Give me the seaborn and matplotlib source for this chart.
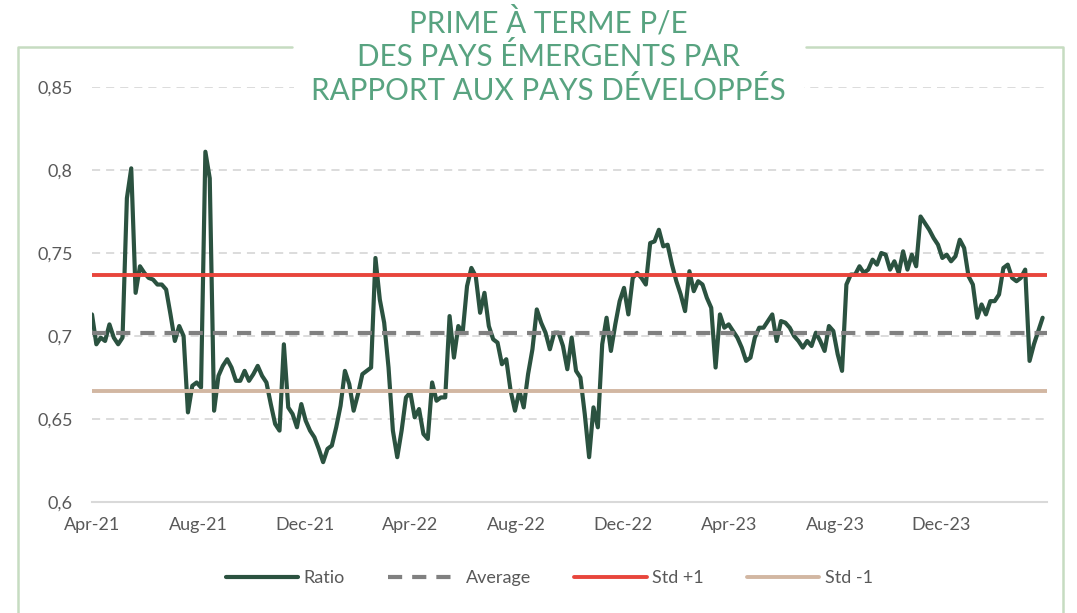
import matplotlib
matplotlib.use("Agg")
import matplotlib.pyplot as plt
from matplotlib.lines import Line2D
from matplotlib.patches import Rectangle
import pandas as pd
import seaborn as sns

# Ratio, one value every 5 days from 1 Apr 2021
start_date = "2021-04-01"
step = "5D"
ratio = [
    0.713, 0.695, 0.699, 0.697, 0.707, 0.699, 0.695, 0.699, 0.783, 0.801,
    0.726, 0.742, 0.738, 0.735, 0.734, 0.731, 0.731, 0.728, 0.713, 0.697,
    0.706, 0.700, 0.654, 0.670, 0.672, 0.669, 0.811, 0.795, 0.655, 0.676,
    0.682, 0.686, 0.681, 0.673, 0.673, 0.679, 0.673, 0.677, 0.682, 0.676,
    0.672, 0.659, 0.647, 0.643, 0.695, 0.657, 0.653, 0.645, 0.659, 0.649,
    0.643, 0.639, 0.632, 0.624, 0.632, 0.634, 0.645, 0.658, 0.679, 0.671,
    0.655, 0.665, 0.677, 0.679, 0.681, 0.747, 0.722, 0.708, 0.681, 0.643,
    0.627, 0.643, 0.663, 0.666, 0.651, 0.656, 0.641, 0.638, 0.672, 0.661,
    0.663, 0.663, 0.712, 0.687, 0.706, 0.702, 0.730, 0.741, 0.736, 0.714,
    0.726, 0.706, 0.698, 0.696, 0.683, 0.686, 0.667, 0.655, 0.667, 0.657,
    0.677, 0.692, 0.716, 0.708, 0.702, 0.692, 0.702, 0.702, 0.694, 0.680,
    0.699, 0.679, 0.675, 0.653, 0.627, 0.657, 0.645, 0.695, 0.711, 0.691,
    0.707, 0.721, 0.729, 0.713, 0.735, 0.738, 0.735, 0.731, 0.756, 0.757,
    0.764, 0.754, 0.755, 0.743, 0.733, 0.725, 0.715, 0.739, 0.727, 0.733,
    0.731, 0.723, 0.717, 0.681, 0.713, 0.705, 0.707, 0.703, 0.699, 0.693,
    0.685, 0.687, 0.699, 0.705, 0.705, 0.709, 0.713, 0.697, 0.709, 0.708,
    0.705, 0.700, 0.697, 0.693, 0.697, 0.694, 0.702, 0.697, 0.691, 0.706,
    0.703, 0.689, 0.679, 0.731, 0.737, 0.737, 0.742, 0.738, 0.740, 0.746,
    0.743, 0.750, 0.749, 0.740, 0.745, 0.738, 0.751, 0.740, 0.749, 0.742,
    0.772, 0.768, 0.764, 0.759, 0.755, 0.747, 0.749, 0.745, 0.748, 0.758,
    0.753, 0.736, 0.731, 0.711, 0.719, 0.713, 0.721, 0.721, 0.725, 0.741,
    0.743, 0.735, 0.733, 0.735, 0.740, 0.685, 0.695, 0.703, 0.711,
]

average = 0.702
std_plus = 0.737
std_minus = 0.667

y_ticks = [0.6, 0.65, 0.7, 0.75, 0.8, 0.85]
y_labels = ["0,6", "0,65", "0,7", "0,75", "0,8", "0,85"]
x_ticks = ["2021-04-01", "2021-08-01", "2021-12-01", "2022-04-01", "2022-08-01",
           "2022-12-01", "2023-04-01", "2023-08-01", "2023-12-01"]
x_labels = ["Apr-21", "Aug-21", "Dec-21", "Apr-22", "Aug-22",
            "Dec-22", "Apr-23", "Aug-23", "Dec-23"]

title = "PRIME À TERME P/E\nDES PAYS ÉMERGENTS PAR\nRAPPORT AUX PAYS DÉVELOPPÉS"

df = pd.DataFrame({
    "date": pd.date_range(start_date, periods=len(ratio), freq=step),
    "Ratio": ratio,
})

sns.set_theme(style="white")
plt.rcParams["font.family"] = ["Lato", "DejaVu Sans"]

W, H = 1077, 613
fig = plt.figure(figsize=(W / 100, H / 100), dpi=100)
fig.patch.set_facecolor("white")
ax = fig.add_axes([92 / W, 1 - 502 / H, 955 / W, 415 / H])

# main series, then the reference lines on top
sns.lineplot(data=df, x="date", y="Ratio", ax=ax, color="#2b5240", lw=3, label="Ratio")
ax.axhline(average, color="#808080", lw=3, dashes=(3.4, 2.4), label="Average")
ax.axhline(std_plus, color="#e8453c", lw=2.8, label="Std +1")
ax.axhline(std_minus, color="#d2b7a2", lw=2.8, label="Std -1")

ax.set_ylim(0.6, 0.85)
ax.set_xlim(pd.Timestamp("2021-04-01"), pd.Timestamp("2024-03-31"))
ax.set_yticks(y_ticks)
ax.set_yticklabels(y_labels)
ax.set_xticks(pd.to_datetime(x_ticks))
ax.set_xticklabels(x_labels)
ax.set_xlabel("")
ax.set_ylabel("")
ax.tick_params(axis="both", length=0, labelsize=13, colors="#595959")
ax.tick_params(axis="y", pad=14)
ax.tick_params(axis="x", pad=11)

ax.yaxis.grid(True, color="#d9d9d9", lw=1.3, ls=(0, (4.5, 3.3)))
ax.set_axisbelow(True)
for side in ["top", "left", "right"]:
    ax.spines[side].set_visible(False)
ax.spines["bottom"].set_color("#d9d9d9")
ax.spines["bottom"].set_linewidth(1.5)

ax.get_legend().remove()
handles, labels = ax.get_legend_handles_labels()
leg = fig.legend(handles, labels, loc="center", bbox_to_anchor=(0.510, 1 - 578 / H),
                 ncol=4, frameon=False, fontsize=13, handlelength=4,
                 handletextpad=0.3, columnspacing=2.4)
for t in leg.get_texts():
    t.set_color("#595959")

# light green frame, broken by the title
frame_kw = dict(color="#c6dcc1", lw=1.8, transform=fig.transFigure)
fig.add_artist(Line2D([18 / W, 18 / W, 292 / W], [0, 1 - 47 / H, 1 - 47 / H], **frame_kw))
fig.add_artist(Line2D([806 / W, 1063 / W, 1063 / W], [1 - 47 / H, 1 - 47 / H, 0], **frame_kw))

# white block behind the title hides the top gridline
fig.add_artist(Rectangle((294 / W, 1 - 106 / H), 510 / W, 106 / H, transform=fig.transFigure,
                         facecolor="white", edgecolor="none", zorder=5))
fig.text(0.509, 1 - 56 / H, title, ha="center", va="center", fontsize=21.3,
         color="#58a380", linespacing=1.18, zorder=6)

fig.savefig("out.png", dpi=100, facecolor="white")
